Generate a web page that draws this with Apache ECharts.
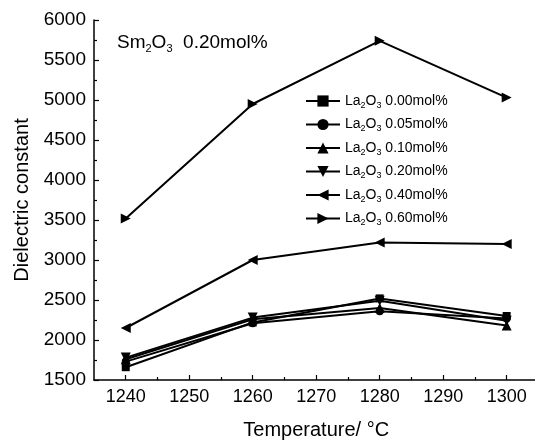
<!DOCTYPE html>
<html>
<head>
<meta charset="utf-8">
<script src="https://cdn.jsdelivr.net/npm/echarts@6/dist/echarts.min.js"></script>
<style>
  html, body { margin: 0; padding: 0; background: #fff; }
  #chart { width: 535px; height: 443px; }
</style>
</head>
<body>
<div id="chart"></div>
<script>
const temperatures = [1240, 1260, 1280, 1300]
const la000 = [1660, 2220, 2520, 2300]
const la005 = [1730, 2210, 2360, 2270]
const la010 = [1760, 2260, 2400, 2180]
const la020 = [1780, 2280, 2490, 2240]
const la040 = [2150, 3000, 3220, 3200]
const la060 = [3520, 4950, 5740, 5030]
const seriesNames = ['0.00', '0.05', '0.10', '0.20', '0.40', '0.60']
const majorTicks = [1240, 1250, 1260, 1270, 1280, 1290, 1300]
const minorTicks = [1245, 1255, 1265, 1275, 1285, 1295]

const chart = echarts.init(document.getElementById('chart'))

// marker shapes, one per series
const symbols = [
  'rect',
  'circle',
  'path://M5,0 L10,9 L0,9 Z',
  'path://M0,0 L10,0 L5,9 Z',
  'path://M0,5 L9,0 L9,10 Z',
  'path://M0,0 L9,5 L0,10 Z',
]
const allData = [la000, la005, la010, la020, la040, la060]

const font = 'Liberation Sans, Arial, sans-serif'

const series = allData.map((vals, i) => ({
  name: seriesNames[i],
  type: 'line',
  xAxisIndex: 0,
  data: vals.map((v, j) => [temperatures[j], v]),
  symbol: symbols[i],
  symbolSize: i < 2 ? 8 : 10,
  showSymbol: true,
  lineStyle: { width: 2, color: '#000' },
  itemStyle: { color: '#000' },
}))

const option = {
  animation: false,
  textStyle: { fontFamily: font },
  grid: { left: 94, right: -3.4, top: 20, bottom: 63, outerBoundsMode: 'none', containLabel: false },
  title: {
    text: 'Sm{sub|2}O{sub|3}  0.20mol%',
    left: 112,
    top: 26,
    textStyle: {
      fontFamily: font,
      fontSize: 19,
      fontWeight: 'normal',
      color: '#000',
      rich: { sub: { fontSize: 11, padding: [12, 0, 0, 0], fontFamily: font } },
    },
  },
  legend: {
    orient: 'vertical',
    left: 305,
    top: 94,
    padding: 0,
    itemWidth: 34,
    itemHeight: 14,
    itemGap: 7.5,
    data: seriesNames,
    formatter: (name) => 'La{sub|2}O{sub|3} ' + name + 'mol%',
    textStyle: {
      fontFamily: font,
      fontSize: 14,
      color: '#000',
      rich: { sub: { fontSize: 9, padding: [9, 0, 0, 0], fontFamily: font } },
    },
  },
  xAxis: [
    {
      type: 'value',
      min: 1235,
      max: 1305,
      name: 'Temperature/ °C',
      nameLocation: 'middle',
      nameGap: 40,
      nameTextStyle: { fontSize: 20, color: '#000', fontFamily: font },
      splitLine: { show: false },
      axisLine: { lineStyle: { color: '#000', width: 1.5 } },
      axisTick: { inside: true, length: 5, customValues: majorTicks, lineStyle: { color: '#000', width: 1.2 } },
      axisLabel: { customValues: majorTicks, fontSize: 18, color: '#000', margin: 8, fontFamily: font, formatter: (v) => String(v) },
    },
    {
      type: 'value',
      min: 1235,
      max: 1305,
      position: 'bottom',
      splitLine: { show: false },
      axisLine: { show: false },
      axisTick: { inside: true, length: 3, customValues: minorTicks, lineStyle: { color: '#000', width: 1.2 } },
      axisLabel: { show: false },
    },
  ],
  yAxis: {
    type: 'value',
    min: 1500,
    max: 6000,
    interval: 500,
    name: 'Dielectric constant',
    nameLocation: 'middle',
    nameGap: 62,
    nameTextStyle: { fontSize: 20, color: '#000', fontFamily: font },
    splitLine: { show: false },
    axisLine: { show: true, lineStyle: { color: '#000', width: 1.5 } },
    axisTick: { inside: true, length: 5, lineStyle: { color: '#000', width: 1.2 } },
    minorTick: { show: true, splitNumber: 2, length: 3, lineStyle: { color: '#000', width: 1.2 } },
    axisLabel: { fontSize: 19, color: '#000', margin: 8, fontFamily: font, formatter: (v) => String(v) },
  },
  series,
}

chart.setOption(option)
</script>
</body>
</html>
